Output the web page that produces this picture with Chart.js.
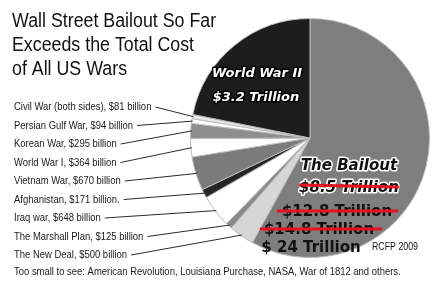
<!DOCTYPE html>
<html>
<head>
<meta charset="utf-8">
<title>Wall Street Bailout So Far Exceeds the Total Cost of All US Wars</title>
<script src="https://cdn.jsdelivr.net/npm/chart.js@4.4.1/dist/chart.umd.min.js"></script>
<style>
    html, body { margin: 0; padding: 0; background: #fff; }
    #chart { display: block; }
</style>
</head>
<body>
<canvas id="chart" width="440" height="295"></canvas>
<script>
// Slices, clockwise from 12 o'clock. Values in billions of dollars.
const sliceNames = [
    'The Bailout', 'The New Deal', 'The Marshall Plan', 'Iraq war', 'Afghanistan',
    'Vietnam War', 'World War I', 'Korean War', 'Persian Gulf War',
    'Civil War (both sides)', 'World War II'
];
const sliceValues = [8500, 500, 125, 648, 171, 670, 364, 295, 94, 81, 3200];

// Callouts on the left, top to bottom
const calloutSlices = [
    'Civil War (both sides)', 'Persian Gulf War', 'Korean War', 'World War I',
    'Vietnam War', 'Afghanistan', 'Iraq war', 'The Marshall Plan', 'The New Deal'
];
const calloutTexts = [
    'Civil War (both sides), $81 billion',
    'Persian Gulf War, $94 billion',
    'Korean War, $295 billion',
    'World War I, $364 billion',
    'Vietnam War, $670 billion',
    'Afghanistan, $171 billion.',
    'Iraq war, $648 billion',
    'The Marshall Plan, $125 billion',
    'The New Deal, $500 billion'
];

const titleLines = ['Wall Street Bailout So Far', 'Exceeds the Total Cost', 'of All US Wars'];
const bailoutEstimates = ['$8.5 Trillion', '$12.8 Trillion', '$14.8 Trillion', '$ 24 Trillion'];
const footnote = 'Too small to see: American Revolution, Louisiana Purchase, NASA, War of 1812 and others.';
const credit = 'RCFP 2009';

// couleurs (gris, comme l'original)
const sliceColors = ['#7e7e7e', '#d6d6d6', '#8a8a8a', '#ffffff', '#262626',
    '#7b7b7b', '#ffffff', '#8e8e8e', '#ffffff', '#e8e8e8', '#1d1d1d'];

const NARROW = '"Liberation Sans", Arial, sans-serif';
const HEAVY = '"DejaVu Sans", Verdana, sans-serif';

function drawText(ctx, text, x, y, font, opts) {
    opts = opts || {};
    const sx = opts.scaleX || 1;
    ctx.save();
    ctx.font = font;
    ctx.textBaseline = 'alphabetic';
    ctx.textAlign = 'left';
    const w = ctx.measureText(text).width * sx;
    let left = x;
    if (opts.align === 'center') left = x - w / 2;
    ctx.translate(left, y);
    ctx.scale(sx, 1);
    if (opts.stroke) {
        ctx.lineJoin = 'round';
        ctx.lineWidth = opts.strokeWidth || 3;
        ctx.strokeStyle = opts.stroke;
        ctx.strokeText(text, 0, 0);
    }
    ctx.fillStyle = opts.color || '#111';
    ctx.fillText(text, 0, 0);
    ctx.restore();
    return { left: left, width: w };
}

function strike(ctx, x1, y1, x2, y2) {
    ctx.save();
    ctx.strokeStyle = '#e5121f';
    ctx.lineWidth = 3;
    ctx.beginPath();
    ctx.moveTo(x1, y1);
    ctx.lineTo(x2, y2);
    ctx.stroke();
    ctx.restore();
}

const annotations = {
    id: 'annotations',
    afterDraw(chart) {
        const ctx = chart.ctx;
        const meta = chart.getDatasetMeta(0);

        // titre
        titleLines.forEach(function (line, i) {
            drawText(ctx, line, 12, 27 + i * 24, '20px ' + NARROW, { scaleX: 0.89, color: '#111' });
        });

        // étiquettes de gauche + traits de rappel
        calloutTexts.forEach(function (text, i) {
            const cy = 106 + i * 18.5;
            const t = drawText(ctx, text, 14, cy + 4, '11px ' + NARROW, { scaleX: 0.86, color: '#1a1a1a' });
            const arc = meta.data[sliceNames.indexOf(calloutSlices[i])];
            const mid = (arc.startAngle + arc.endAngle) / 2;
            const r = arc.outerRadius - 1;
            ctx.save();
            ctx.strokeStyle = '#2a2a2a';
            ctx.lineWidth = 1;
            ctx.beginPath();
            ctx.moveTo(t.left + t.width + 4, cy + 1);
            ctx.lineTo(arc.x + r * Math.cos(mid), arc.y + r * Math.sin(mid));
            ctx.stroke();
            ctx.restore();
        });

        // World War II
        const ww2 = 'bold italic 13px ' + HEAVY;
        drawText(ctx, 'World War II', 257, 77, ww2, { align: 'center', color: '#fff', stroke: '#000', strokeWidth: 3 });
        drawText(ctx, '$3.2 Trillion', 256, 101, ww2, { align: 'center', color: '#fff', stroke: '#000', strokeWidth: 3 });

        // The Bailout
        const bo = 'bold italic 15px ' + HEAVY;
        drawText(ctx, 'The Bailout', 349, 170, bo, { align: 'center', color: '#111', stroke: '#fff', strokeWidth: 3 });
        const e0 = drawText(ctx, bailoutEstimates[0], 349, 192, bo, { align: 'center', color: '#111', stroke: '#fff', strokeWidth: 3 });
        strike(ctx, e0.left, 185, e0.left + e0.width, 187);

        const plain = 'bold 15px ' + HEAVY;
        const e1 = drawText(ctx, bailoutEstimates[1], 337, 216, plain, { align: 'center', color: '#111' });
        strike(ctx, e1.left - 5, 211, e1.left + e1.width + 6, 211);
        const e2 = drawText(ctx, bailoutEstimates[2], 319, 234, plain, { align: 'center', color: '#111' });
        strike(ctx, e2.left - 4, 229, e2.left + e2.width + 8, 229);
        drawText(ctx, bailoutEstimates[3], 311, 252, plain, { align: 'center', color: '#111' });

        drawText(ctx, credit, 372, 250, '10px ' + NARROW, { scaleX: 0.88, color: '#111' });

        // note de bas de page
        drawText(ctx, footnote, 14, 275, '11px ' + NARROW, { scaleX: 0.86, color: '#1a1a1a' });
    }
};

new Chart(document.getElementById('chart'), {
    type: 'pie',
    data: {
        labels: sliceNames,
        datasets: [{
            data: sliceValues,
            backgroundColor: sliceColors,
            borderColor: '#bcbcbc',
            borderWidth: 1
        }]
    },
    options: {
        responsive: false,
        animation: false,
        layout: { padding: { left: 190, right: 10, top: 17, bottom: 36 } },
        plugins: {
            legend: { display: false },
            tooltip: { enabled: false },
            title: { display: false }
        }
    },
    plugins: [annotations]
});
</script>
</body>
</html>
